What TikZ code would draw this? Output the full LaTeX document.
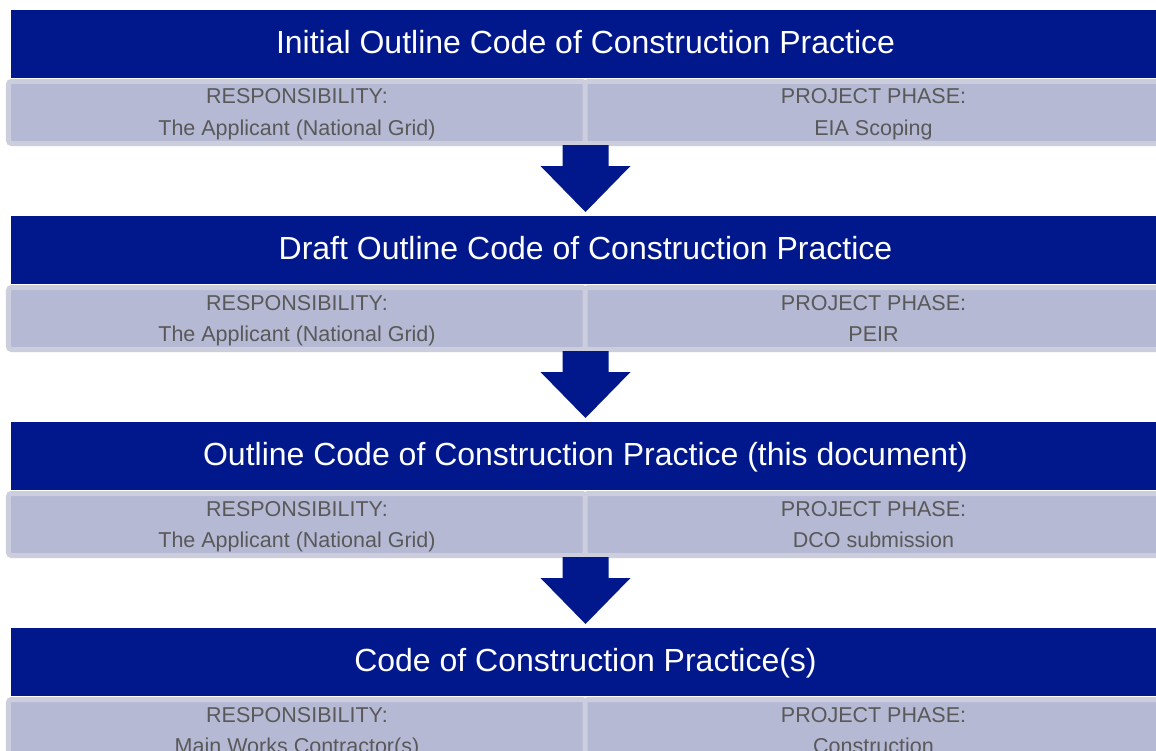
\documentclass[tikz,border=0pt]{standalone}
\usepackage{fontspec}
\setmainfont{Liberation Sans}
\usetikzlibrary{calc}
\definecolor{hdrblue}{HTML}{00188C}
\definecolor{cellfill}{HTML}{B5B9D4}
\definecolor{cellrim}{HTML}{CDCEDD}
\definecolor{celltext}{HTML}{595959}
\newcommand\celllines[2]{\rule{0pt}{15.7bp}\smash{#1}\\\smash{#2}\rule[-1.7bp]{0pt}{1.7bp}}
\newcommand\flowarrow[3]{%
  \fill[hdrblue] ($(#1.south |- #2.south)+(-23,-1)$) -- ($(#1.south |- #2.south)+(23,-1)$)
    -- ($(#3.north)+(23,-50)$) -- ($(#3.north)+(45,-50)$) -- ($(#3.north)+(0,-4)$)
    -- ($(#3.north)+(-45,-50)$) -- ($(#3.north)+(-23,-50)$) -- cycle;}
\begin{document}
\begin{tikzpicture}[x=1bp,y=-1bp,
  header/.style={rectangle, fill=hdrblue, text=white, minimum width=1149bp, minimum height=68bp,
    inner sep=0pt, outer sep=0pt, font=\fontsize{32bp}{38bp}\selectfont, text height=25bp, text depth=6bp},
  cellbox/.style={rectangle, rounded corners=3bp, fill=cellfill, draw=cellrim, line width=5bp,
    minimum width=577bp, minimum height=62bp, inner sep=0pt, align=center, text=celltext,
    font=\fontsize{21.5bp}{31bp}\selectfont}]
\useasboundingbox (0,0) rectangle (1156,751);
\clip (0,0) rectangle (1156,751);
\fill[white] (0,0) rectangle (1156,751);
% block 1
\node[header] (h1) at (585.5,44) {Initial Outline Code of Construction Practice};
\node[cellbox] (r1) at (297,112.5) {\celllines{RESPONSIBILITY:}{The Applicant (National Grid)}};
\node[cellbox] (p1) at (873.5,112.5) {\celllines{PROJECT PHASE:}{EIA Scoping}};
% block 2
\node[header] (h2) at (585.5,250) {Draft Outline Code of Construction Practice};
\node[cellbox] (r2) at (297,318.5) {\celllines{RESPONSIBILITY:}{The Applicant (National Grid)}};
\node[cellbox] (p2) at (873.5,318.5) {\celllines{PROJECT PHASE:}{PEIR}};
% block 3
\node[header] (h3) at (585.5,456) {Outline Code of Construction Practice (this document)};
\node[cellbox] (r3) at (297,524.5) {\celllines{RESPONSIBILITY:}{The Applicant (National Grid)}};
\node[cellbox] (p3) at (873.5,524.5) {\celllines{PROJECT PHASE:}{DCO submission}};
% block 4
\node[header] (h4) at (585.5,662) {Code of Construction Practice(s)};
\node[cellbox] (r4) at (297,730.5) {\celllines{RESPONSIBILITY:}{Main Works Contractor(s)}};
\node[cellbox] (p4) at (873.5,730.5) {\celllines{PROJECT PHASE:}{Construction}};
% arrows
\flowarrow{h1}{r1}{h2}
\flowarrow{h2}{r2}{h3}
\flowarrow{h3}{r3}{h4}
\end{tikzpicture}
\end{document}
